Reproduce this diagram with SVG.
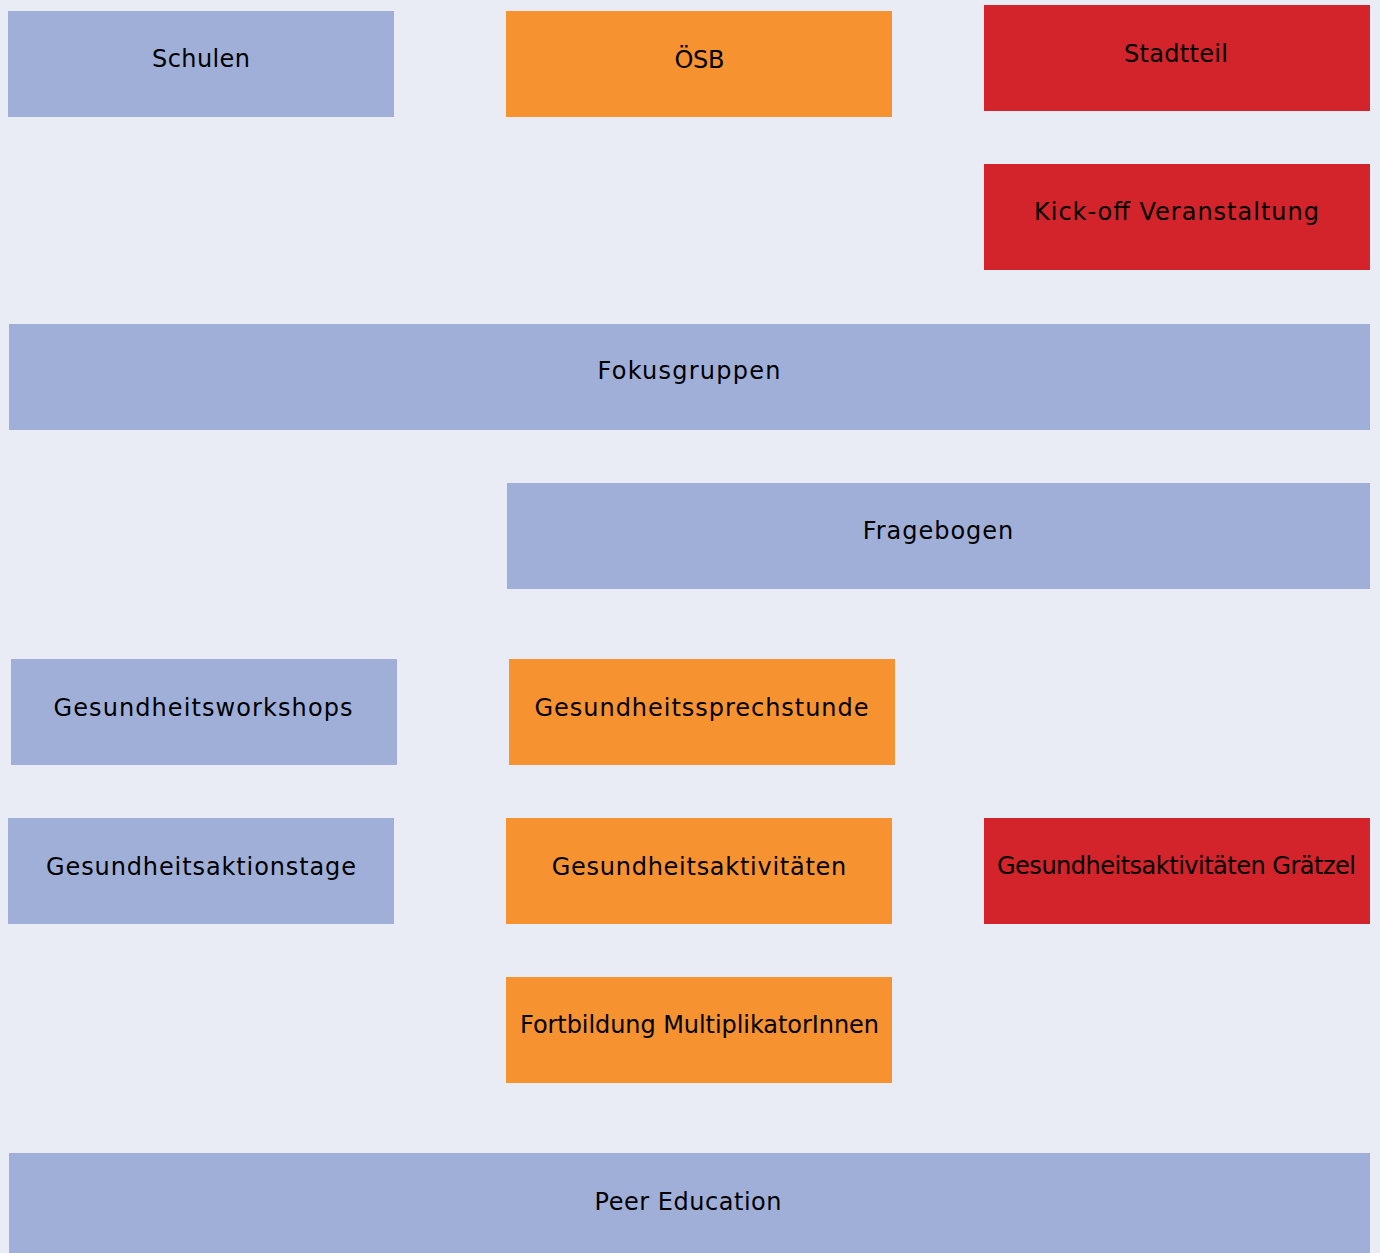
<svg xmlns="http://www.w3.org/2000/svg" width="1380" height="1253" viewBox="0 0 1380 1253">
<style>
.blue{fill:#A0AFD8}
.orange{fill:#F69230}
.red{fill:#D3232B}
text{font-family:"DejaVu Sans","Liberation Sans",sans-serif;font-size:24px;fill:#000;text-anchor:middle}
</style>
<rect x="0" y="0" width="1380" height="1253" fill="#E9ECF5"/>
<g id="connectors"></g>
<g id="schulen"><rect class="blue" x="8" y="11" width="386" height="106"/><text x="201" y="67.3" textLength="98" lengthAdjust="spacing">Schulen</text></g>
<g id="oesb"><rect class="orange" x="506" y="11" width="386" height="106"/><text x="699.5" y="67.5" textLength="50" lengthAdjust="spacing">ÖSB</text></g>
<g id="stadtteil"><rect class="red" x="984" y="5" width="386" height="106"/><text x="1176" y="61.5" textLength="104" lengthAdjust="spacing">Stadtteil</text></g>
<g id="kickoff"><rect class="red" x="984" y="164" width="386" height="106"/><text x="1176.5" y="220" textLength="285" lengthAdjust="spacing">Kick-off Veranstaltung</text></g>
<g id="fokusgruppen"><rect class="blue" x="9" y="324" width="1361" height="106"/><text x="689" y="379" textLength="183" lengthAdjust="spacing">Fokusgruppen</text></g>
<g id="fragebogen"><rect class="blue" x="507" y="483" width="863" height="106"/><text x="938" y="539" textLength="150.5" lengthAdjust="spacing">Fragebogen</text></g>
<g id="workshops"><rect class="blue" x="11" y="659" width="386" height="106"/><text x="203" y="715.5" textLength="299" lengthAdjust="spacing">Gesundheitsworkshops</text></g>
<g id="sprechstunde"><rect class="orange" x="509" y="659" width="386" height="106"/><text x="701.5" y="715.5" textLength="334" lengthAdjust="spacing">Gesundheitssprechstunde</text></g>
<g id="aktionstage"><rect class="blue" x="8" y="818" width="386" height="106"/><text x="201" y="874.5" textLength="310" lengthAdjust="spacing">Gesundheitsaktionstage</text></g>
<g id="aktivitaeten"><rect class="orange" x="506" y="818" width="386" height="106"/><text x="699" y="874.5" textLength="294.5" lengthAdjust="spacing">Gesundheitsaktivitäten</text></g>
<g id="graetzel"><rect class="red" x="984" y="818" width="386" height="106"/><text x="1176.5" y="873.5" textLength="359" lengthAdjust="spacing">Gesundheitsaktivitäten Grätzel</text></g>
<g id="fortbildung"><rect class="orange" x="506" y="977" width="386" height="106"/><text x="699.5" y="1033.3" textLength="359" lengthAdjust="spacing">Fortbildung MultiplikatorInnen</text></g>
<g id="peer"><rect class="blue" x="9" y="1153" width="1361" height="106"/><text x="688" y="1209.5" textLength="187" lengthAdjust="spacing">Peer Education</text></g>
</svg>
